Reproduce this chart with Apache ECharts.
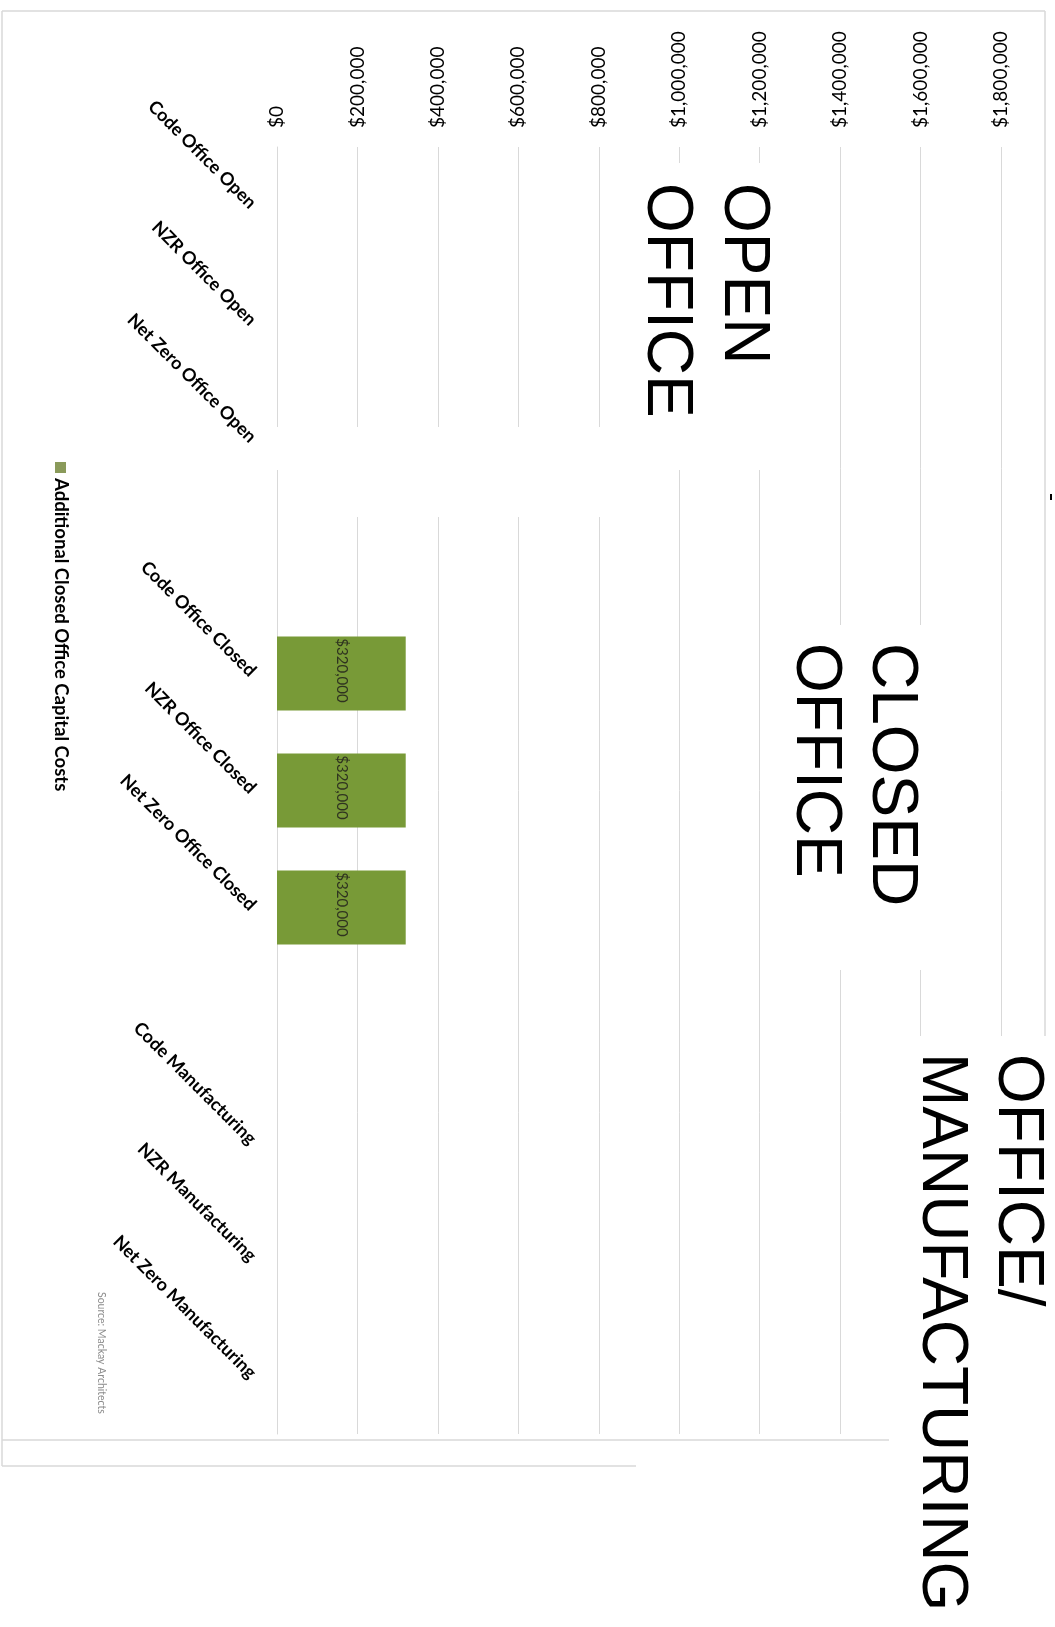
<!DOCTYPE html>
<html>
<head>
<meta charset="utf-8">
<script src="https://cdn.jsdelivr.net/npm/echarts@6.0.0/dist/echarts.min.js"></script>
<style>
  html, body { margin: 0; padding: 0; background: #fff; }
  #chart { width: 1055px; height: 1627px; }
</style>
</head>
<body>
<div id="chart"></div>
<script>
var categories = ['Code Office Open', 'NZR Office Open', 'Net Zero Office Open', '',
    'Code Office Closed', 'NZR Office Closed', 'Net Zero Office Closed', '',
    'Code Manufacturing', 'NZR Manufacturing', 'Net Zero Manufacturing'];
var closedCosts = [null, null, null, null, 320000, 320000, 320000, null, null, null, null];
var seriesName = 'Additional Closed Office Capital Costs';
var valueMin = 0;
var valueMax = 1800000;
var valueStep = 200000;
var groupTitles = [['OPEN', 'OFFICE'], ['CLOSED', 'OFFICE'], ['OFFICE/', 'MANUFACTURING']];
var sourceNote = 'Source: Mackay Architects';

var ROT = -Math.PI / 2;
var grey = '#d9d9d9';

function money(v) {
    return '$' + Number(v).toLocaleString('en-US');
}

// white patches from the pasted titles, they cut the gridlines
function patch(x, y, w, h) {
    return { type: 'rect', z: 10, shape: { x: x, y: y, width: w, height: h }, style: { fill: '#fff' } };
}
function bigText(txt, x, y) {
    return {
        type: 'text', z: 11, x: x, y: y, rotation: ROT,
        style: { text: txt, font: '64px "Liberation Sans", Arial, sans-serif', fill: '#000',
            align: 'left', verticalAlign: 'middle' }
    };
}
function line(x1, y1, x2, y2) {
    return { type: 'line', z: 9, shape: { x1: x1, y1: y1, x2: x2, y2: y2 }, style: { stroke: grey, lineWidth: 1.5 } };
}

var chart = echarts.init(document.getElementById('chart'));
var option = {
    backgroundColor: '#fff',
    animation: false,
    grid: { left: 277, right: 54, top: 147, bottom: 193, outerBoundsMode: 'none', containLabel: false },
    xAxis: {
        type: 'value',
        position: 'top',
        min: valueMin,
        max: valueMax,
        interval: valueStep,
        axisLine: { show: false },
        axisTick: { show: false },
        splitLine: { show: true, lineStyle: { color: grey, width: 1 } },
        axisLabel: {
            rotate: -90,
            margin: 19,
            color: '#000',
            fontFamily: 'Lato',
            fontSize: 19,
            formatter: money
        }
    },
    yAxis: {
        type: 'category',
        inverse: true,
        data: categories,
        axisLine: { show: true, lineStyle: { color: grey } },
        axisTick: { show: false },
        splitLine: { show: false },
        axisLabel: {
            interval: 0,
            rotate: -45,
            margin: 24,
            color: '#000',
            fontFamily: 'Lato',
            fontWeight: 'bold',
            fontSize: 18
        }
    },
    series: [{
        name: seriesName,
        type: 'bar',
        data: closedCosts,
        barWidth: 74,
        itemStyle: { color: '#789a37' },
        label: {
            show: true,
            position: 'inside',
            rotate: -90,
            offset: [-3, 0],
            color: '#2f3320',
            fontFamily: 'Lato',
            fontSize: 15,
            formatter: function (p) { return money(p.value); }
        }
    }],
    graphic: [
        // chart frame
        line(2, 11, 1045, 11),
        line(1045, 11, 1045, 1036),
        line(2, 11, 2, 1466),
        line(2, 1440, 889, 1440),
        line(2, 1466, 636, 1466),
        patch(292, 427, 333, 90),
        patch(264, 427, 28, 43),
        patch(620, 163, 180, 307),
        patch(780, 625, 180, 345),
        patch(889, 1036, 166, 591),
        bigText(groupTitles[0][0], 743, 183),
        bigText(groupTitles[0][1], 666, 183),
        bigText(groupTitles[1][0], 891, 643),
        bigText(groupTitles[1][1], 815, 643),
        bigText(groupTitles[2][0], 1017, 1054),
        bigText(groupTitles[2][1], 941, 1053),
        // legend
        { type: 'rect', z: 12, shape: { x: 55, y: 462, width: 11, height: 11 }, style: { fill: '#8a9a5a' } },
        {
            type: 'text', z: 12, x: 61, y: 478, rotation: ROT,
            style: { text: seriesName, font: 'bold 18.5px Lato', fill: '#000', align: 'left', verticalAlign: 'middle' }
        },
        {
            type: 'text', z: 12, x: 101, y: 1292, rotation: ROT,
            style: { text: sourceNote, font: '10.5px Lato', fill: '#8c8c8c', align: 'left', verticalAlign: 'middle' }
        },
        { type: 'rect', z: 12, shape: { x: 1050, y: 494, width: 2, height: 6 }, style: { fill: '#000' } }
    ]
};
chart.setOption(option);
</script>
</body>
</html>
